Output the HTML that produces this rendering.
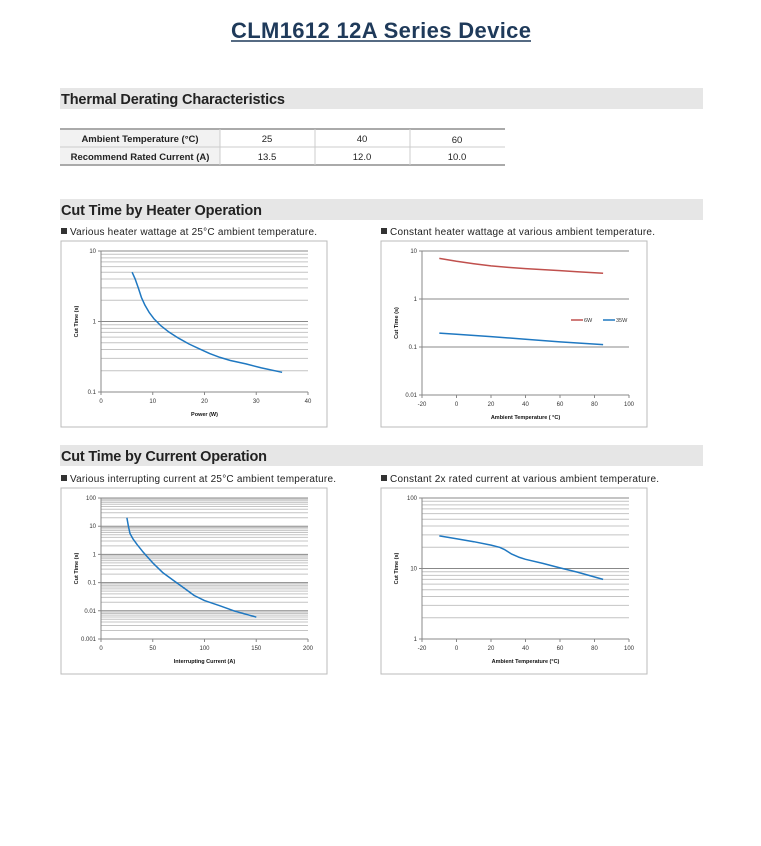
<!DOCTYPE html>
<html><head><meta charset="utf-8"><style>
body{margin:0;background:#fff;width:761px;height:846px;overflow:hidden}
svg{display:block}
text{font-family:"Liberation Sans",sans-serif}
</style></head><body>
<svg id="s" width="761" height="846" xmlns="http://www.w3.org/2000/svg">
<text x="381" y="38" text-anchor="middle" font-size="22" font-weight="bold" fill="#1f3a5a" textLength="300">CLM1612 12A Series Device</text>
<line x1="231" y1="41" x2="531" y2="41" stroke="#1f3a5a" stroke-width="1.5"/>
<rect x="60" y="88" width="643" height="21" fill="#e6e6e6"/>
<text x="61" y="104" font-size="14.5" font-weight="bold" fill="#222" textLength="224">Thermal Derating Characteristics</text>
<rect x="60" y="129" width="160" height="36" fill="#f2f2f2"/>
<line x1="60" y1="129" x2="505" y2="129" stroke="#aaa" stroke-width="2"/>
<line x1="60" y1="147" x2="505" y2="147" stroke="#ccc" stroke-width="1"/>
<line x1="60" y1="165" x2="505" y2="165" stroke="#aaa" stroke-width="2"/>
<line x1="220" y1="129" x2="220" y2="165" stroke="#ccc"/>
<line x1="315" y1="129" x2="315" y2="165" stroke="#ccc"/>
<line x1="410" y1="129" x2="410" y2="165" stroke="#ccc"/>
<g font-size="9.5" fill="#222" text-anchor="middle">
<text x="140" y="142" font-weight="bold">Ambient Temperature (°C)</text>
<text x="140" y="160" font-weight="bold">Recommend Rated Current (A)</text>
<text x="267" y="142">25</text><text x="362" y="142">40</text><text x="457" y="143">60</text>
<text x="267" y="160">13.5</text><text x="362" y="160">12.0</text><text x="457" y="160">10.0</text>
</g>
<rect x="60" y="199" width="643" height="21" fill="#e6e6e6"/>
<text x="61" y="215" font-size="14.5" font-weight="bold" fill="#222" textLength="201">Cut Time by Heater Operation</text>
<rect x="60" y="445" width="643" height="21" fill="#e6e6e6"/>
<text x="61" y="461" font-size="14.5" font-weight="bold" fill="#222" textLength="206">Cut Time by Current Operation</text>
<g font-size="10" fill="#222">
<rect x="61" y="228" width="6" height="6" fill="#333"/><text x="70" y="235" textLength="247">Various heater wattage at 25°C ambient temperature.</text>
<rect x="381" y="228" width="6" height="6" fill="#333"/><text x="390" y="235" textLength="265">Constant heater wattage at various ambient temperature.</text>
<rect x="61" y="475" width="6" height="6" fill="#333"/><text x="70" y="482" textLength="266">Various interrupting current at 25°C ambient temperature.</text>
<rect x="381" y="475" width="6" height="6" fill="#333"/><text x="390" y="482" textLength="269">Constant 2x rated current at various ambient temperature.</text>
</g>
<g id="charts"></g>
</svg>
<script>
var NS="http://www.w3.org/2000/svg",G=document.getElementById("charts");
function el(t,a,txt){var e=document.createElementNS(NS,t);for(var k in a)e.setAttribute(k,a[k]);if(txt!=null)e.textContent=txt;G.appendChild(e);return e;}
function chart(c){
 el("rect",{x:c.bx,y:c.by,width:266,height:c.bh,fill:"#fff",stroke:"#bbb"});
 var x0=c.px0,x1=c.px1,y0=c.py0,y1=c.py1,d0=c.d0,d1=c.d1;
 function X(v){return x0+(v-c.xmin)/(c.xmax-c.xmin)*(x1-x0);}
 function Y(v){return y1-(Math.log10(v)-d0)/(d1-d0)*(y1-y0);}
 for(var d=d0;d<d1;d++){
  if(c.minor)for(var m=2;m<=9;m++){var y=Y(m*Math.pow(10,d));el("line",{x1:x0,x2:x1,y1:y,y2:y,stroke:"#c4c4c4","stroke-width":1});}
 }
 for(var d=d0;d<=d1;d++){var y=Y(Math.pow(10,d));el("line",{x1:x0-3,x2:x1,y1:y,y2:y,stroke:"#888","stroke-width":1});
  el("text",{x:x0-5,y:y+2,"font-size":6,"text-anchor":"end",fill:"#333"},c.ylab[d-d0]);}
 el("line",{x1:x0,x2:x0,y1:y0,y2:y1+3,stroke:"#888"});
 for(var i=0;i<c.xt.length;i++){var x=X(c.xt[i]);el("line",{x1:x,x2:x,y1:y1,y2:y1+3,stroke:"#888"});
  el("text",{x:x,y:y1+11,"font-size":6,"text-anchor":"middle",fill:"#333"},c.xt[i]);}
 el("text",{x:(x0+x1)/2,y:y1+24,"font-size":5.5,"font-weight":"bold","text-anchor":"middle",fill:"#111"},c.xl);
 var cy=(y0+y1)/2;
 el("text",{x:0,y:0,"font-size":5.5,"font-weight":"bold","text-anchor":"middle",fill:"#111",transform:"translate("+(c.bx+17)+","+cy+") rotate(-90)"},c.yl);
 c.series.forEach(function(s){
  var p=s.pts.map(function(q){return X(q[0]).toFixed(1)+","+Y(q[1]).toFixed(1);}).join(" ");
  el("polyline",{points:p,fill:"none",stroke:s.col,"stroke-width":1.5,"stroke-linejoin":"round"});
 });
 if(c.legend){c.legend();}
}
var blue="#1f78c1",red="#c0504d";
chart({bx:61,by:241,bh:186,px0:101,px1:308,py0:251,py1:392,d0:-1,d1:1,xmin:0,xmax:40,minor:true,
 ylab:["0.1","1","10"],xt:[0,10,20,30,40],xl:"Power (W)",yl:"Cut Time (s)",
 series:[{col:blue,pts:[[6,5],[6.6,4],[7.2,3],[7.8,2.2],[8.5,1.7],[9.3,1.35],[10.2,1.1],[11.5,0.88],[13,0.72],[15,0.58],[17,0.48],[19,0.41],[21,0.35],[23,0.31],[25,0.28],[28,0.25],[31,0.22],[35,0.19]]}]});
chart({bx:381,by:241,bh:186,px0:422,px1:629,py0:251,py1:395,d0:-2,d1:1,xmin:-20,xmax:100,minor:false,
 ylab:["0.01","0.1","1","10"],xt:[-20,0,20,40,60,80,100],xl:"Ambient Temperature ( °C)",yl:"Cut Time (s)",
 series:[{col:red,pts:[[-10,7],[0,6.1],[10,5.4],[20,4.9],[30,4.55],[40,4.3],[50,4.1],[60,3.9],[70,3.7],[85,3.45]]},
  {col:blue,pts:[[-10,0.195],[0,0.185],[20,0.165],[40,0.145],[60,0.128],[85,0.112]]}],
 legend:function(){el("line",{x1:571,x2:583,y1:320,y2:320,stroke:red,"stroke-width":1.5});el("text",{x:584,y:322,"font-size":5.5,fill:"#333"},"6W");
  el("line",{x1:603,x2:615,y1:320,y2:320,stroke:blue,"stroke-width":1.5});el("text",{x:616,y:322,"font-size":5.5,fill:"#333"},"35W");}});
chart({bx:61,by:488,bh:186,px0:101,px1:308,py0:498,py1:639,d0:-3,d1:2,xmin:0,xmax:200,minor:true,
 ylab:["0.001","0.01","0.1","1","10","100"],xt:[0,50,100,150,200],xl:"Interrupting Current (A)",yl:"Cut Time (s)",
 series:[{col:blue,pts:[[25,20],[26.5,10],[28,5.5],[31,3.5],[35,2.2],[40,1.3],[45,0.8],[50,0.5],[60,0.22],[70,0.12],[80,0.065],[90,0.035],[100,0.023],[115,0.015],[130,0.0095],[150,0.006]]}]});
chart({bx:381,by:488,bh:186,px0:422,px1:629,py0:498,py1:639,d0:0,d1:2,xmin:-20,xmax:100,minor:true,
 ylab:["1","10","100"],xt:[-20,0,20,40,60,80,100],xl:"Ambient Temperature (°C)",yl:"Cut Time (s)",
 series:[{col:blue,pts:[[-10,29],[0,26.5],[10,24],[20,21.5],[25,20],[28,18.5],[32,16],[36,14.5],[40,13.5],[50,11.8],[60,10.2],[70,8.9],[85,7]]}]});
</script>
</body></html>
